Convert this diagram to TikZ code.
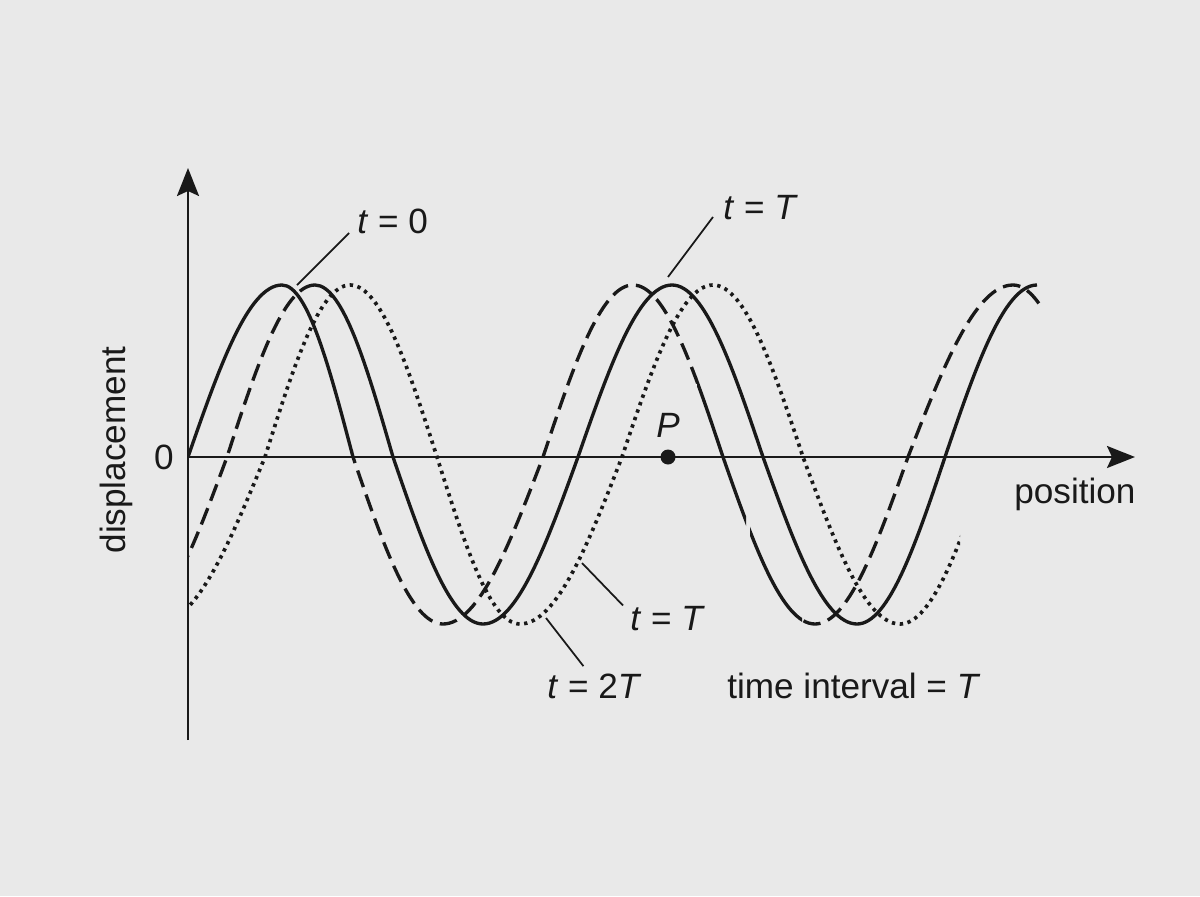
\documentclass[tikz,border=0pt]{standalone}
\usepackage{fontspec}
\setmainfont{Liberation Sans}
\usetikzlibrary{arrows.meta,positioning}
\definecolor{ink}{RGB}{25,25,25}
\definecolor{paper}{RGB}{233,233,233}
\tikzset{axis line/.style={draw=ink, line width=1.3pt,
    -{Stealth[length=0.56cm, width=0.44cm, inset=0.1cm]}}}
\tikzset{wave solid/.style={draw=ink, line width=1.9pt}}
\tikzset{wave dashed/.style={wave solid, dash pattern=on 10pt off 4.5pt}}
\tikzset{wave dotted/.style={wave solid, line width=2.1pt, dash pattern=on 1.9pt off 2.6pt}}
\tikzset{leader line/.style={draw=ink, line width=1pt}}
\tikzset{label text/.style={text=ink, inner sep=0pt, font=\fontsize{20}{24}\selectfont}}
\newcommand{\curveA}{(188,457) sin (282,285) cos (353,457) sin (443,624) cos (543,457) sin (633,285)
  cos (723,457) sin (815,624) cos (908,457) sin (1013,285) cos (1100,457)}
\newcommand{\curveB}{(130,624) cos (227,457) sin (315,285) cos (393,457) sin (483,624) cos (578,457)
  sin (672,285) cos (763,457) sin (857,624) cos (945,457) sin (1037,285)}
\newcommand{\curveC}{(157,624) cos (265,457) sin (350,285) cos (437,457) sin (520,624) cos (622,457)
  sin (713,285) cos (803,457) sin (900,624) cos (990,457)}
\newcommand{\wavepart}[4]{%
  \begin{scope}
    \clip (#3,0) rectangle (#4,896);
    \draw [#1] #2;
  \end{scope}}

\begin{document}
\begin{tikzpicture}[x=0.02cm, y=-0.02cm]
  \fill [paper] (0,0) rectangle (1200,896);

  \coordinate (origin)  at ( 188,457);
  \coordinate (ybottom) at ( 188,740);
  \coordinate (ytop)    at ( 188,168);
  \coordinate (xright)  at (1135,457);

  \draw [axis line] (ybottom) -- (ytop);
  \draw [axis line] (origin)  -- (xright);

  % the three waves, each cut into pieces of one line style
  \wavepart{wave solid}{\curveA}{188}{353}
  \wavepart{wave dashed}{\curveA}{353}{697}
  \wavepart{wave solid}{\curveA}{697}{746}
  \wavepart{wave solid}{\curveA}{750}{802}
  \wavepart{wave dashed}{\curveA}{802}{1040}

  \wavepart{wave dashed}{\curveB}{188}{303}
  \wavepart{wave solid}{\curveB}{303}{1045}

  \wavepart{wave dotted}{\curveC}{188}{960}

  \node [label text]                  (zero)   at ( 164,457) {0};
  \node [label text, rotate=90]       (displ)  at ( 116,450) {displacement};
  \node [label text, anchor=base west] (posn)  at (1014,503) {position};
  \node [label text, anchor=base west] (lblzero) at (357,233) {\textit{t} = 0};
  \node [label text, anchor=base west] (lblT)    at (723,219) {\textit{t} = \textit{T}};
  \node [label text, anchor=base west] (lblTbot) at (630,630) {\textit{t} = \textit{T}};
  \node [label text, anchor=base west] (lbltwoT) at (547,698) {\textit{t} = 2\textit{T}};
  \node [label text, anchor=base west] (interval) at (727,698) {time interval = \textit{T}};

  \node [circle, fill=ink, inner sep=0pt, minimum size=0.3cm] (dotP) at (668,457) {};
  \node [label text, above=0.23cm of dotP] (lblP) {\textit{P}};

  \coordinate (tipzero) at (297,285);
  \coordinate (tipT)    at (668,277);
  \coordinate (tipTbot) at (582,563);
  \coordinate (tiptwoT) at (546,618);

  \draw [leader line] (tipzero) -- ([xshift=-0.16cm]lblzero.base west);
  \draw [leader line] (tipT)    -- ([xshift=-0.2cm, yshift=0.04cm]lblT.base west);
  \draw [leader line] (tipTbot) -- ([xshift=-0.14cm]lblTbot.north west);
  \draw [leader line] (tiptwoT) -- ([xshift=-0.22cm, yshift=0.14cm]lbltwoT.north);
\end{tikzpicture}
\end{document}
